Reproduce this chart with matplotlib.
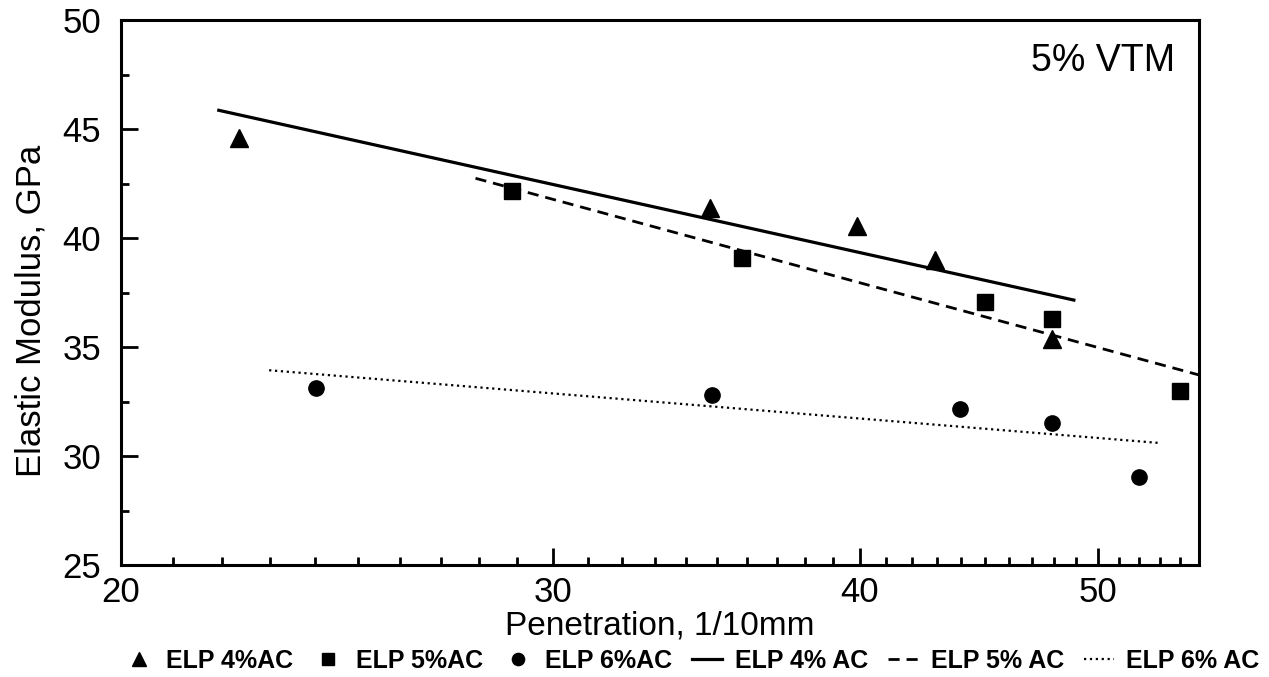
import numpy as np
import matplotlib
matplotlib.use('Agg')
import matplotlib.pyplot as plt
from matplotlib.ticker import FixedLocator, FixedFormatter, NullFormatter, MultipleLocator

plt.rcParams['font.family'] = ['Liberation Sans', 'DejaVu Sans']

# measured points: penetration (1/10 mm) vs elastic modulus (GPa)
pen_4 = [22.35, 34.77, 39.9, 42.94, 47.9]
mod_4 = [44.6, 41.38, 40.55, 39.0, 35.37]
pen_5 = [28.87, 35.81, 44.97, 47.9, 54.0]
mod_5 = [42.16, 39.08, 37.06, 36.28, 32.98]
pen_6 = [24.03, 34.84, 43.96, 47.9, 51.97]
mod_6 = [33.12, 32.8, 32.16, 31.51, 29.04]

# trend lines (end points)
fit_4_x = [21.93, 48.9]
fit_4_y = [45.87, 37.16]
fit_5_x = [27.9, 55.0]
fit_5_y = [42.75, 33.72]
fit_6_x = [22.99, 53.0]
fit_6_y = [33.94, 30.6]

xticks = [20, 30, 40, 50]

fig = plt.figure(figsize=(12.69, 6.77), dpi=100)
ax = fig.add_axes([0.095, 0.1654, 0.850, 0.8046])

ax.plot(pen_4, mod_4, '^', color='k', ms=13, label='ELP 4%AC')
ax.plot(pen_5, mod_5, 's', color='k', ms=11, label='ELP 5%AC')
ax.plot(pen_6, mod_6, 'o', color='k', ms=11, label='ELP 6%AC')
ax.plot(fit_4_x, fit_4_y, '-', color='k', lw=2.3, label='ELP 4% AC')
ax.plot(fit_5_x, fit_5_y, '--', color='k', lw=2.0, dashes=(4, 2.5), label='ELP 5% AC')
ax.plot(fit_6_x, fit_6_y, ':', color='k', lw=1.6, label='ELP 6% AC')

ax.set_xscale('log')
ax.set_xlim(20, 55)
ax.set_ylim(25, 50)
ax.xaxis.set_major_locator(FixedLocator(xticks))
ax.xaxis.set_major_formatter(FixedFormatter([str(v) for v in xticks]))
ax.xaxis.set_minor_locator(FixedLocator([v for v in range(21, 55) if v % 10]))
ax.xaxis.set_minor_formatter(NullFormatter())
ax.yaxis.set_major_locator(MultipleLocator(5))
ax.yaxis.set_minor_locator(MultipleLocator(2.5))

ax.tick_params(which='both', direction='in', width=2, labelsize=25, colors='k')
ax.tick_params(which='major', length=12)
ax.tick_params(which='minor', length=6)
ax.tick_params(axis='x', pad=8)
ax.tick_params(axis='y', pad=14)
for s in ax.spines.values():
    s.set_linewidth(2.2)

ax.set_xlabel('Penetration, 1/10mm', fontsize=24, labelpad=1)
ax.set_ylabel('Elastic Modulus, GPa', fontsize=25)
ax.yaxis.set_label_coords(-0.068, 0.467)
ax.text(0.978, 0.925, '5% VTM', transform=ax.transAxes, ha='right', va='center', fontsize=27)

fig.legend(loc='lower center', bbox_to_anchor=(0.545, -0.027), ncol=6, frameon=False,
           prop={'size': 18, 'weight': 'bold'}, handlelength=1.2, handletextpad=0.5,
           columnspacing=0.8, markerscale=0.8)

fig.savefig('out.png', dpi=100)
